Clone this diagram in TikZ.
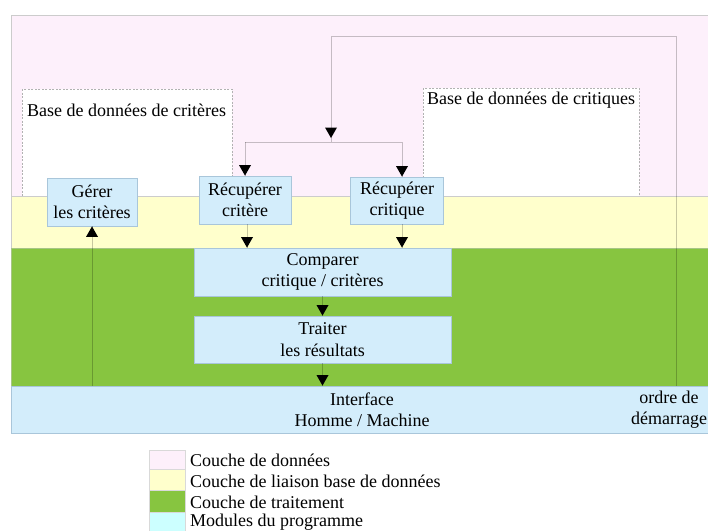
\documentclass[tikz,border=0pt]{standalone}
\usepackage{fontspec}
\setmainfont{Liberation Serif}
\usetikzlibrary{decorations.markings}
\definecolor{pinkL}{HTML}{FDF0FB}
\definecolor{yellowL}{HTML}{FFFFCC}
\definecolor{greenL}{HTML}{87C540}
\definecolor{blueL}{HTML}{D3EDFB}
\definecolor{blueB}{HTML}{A9C6DA}
\definecolor{cyanL}{HTML}{CCFFFF}
\tikzset{
  txt/.style={font=\fontsize{18}{21.5}\selectfont, align=center, inner sep=0pt},
  mod/.style={txt, draw=blueB, fill=blueL, line width=0.8pt},
  layer/.style={draw=black!20, line width=0.8pt},
  bdd/.style={draw=black!30, dashed, dash pattern=on 2pt off 1.5pt, fill=white, line width=0.6pt},
  line/.style={draw=black, draw opacity=0.22, line width=0.9pt},
  conn/.style={line, postaction={decorate}, decoration={markings,
      mark=at position 1 with {\fill[black, fill opacity=1] (0,0) -- (-10.5,6) -- (-10.5,-6) -- cycle;}}},
  swatch/.style={draw=black!15, line width=0.6pt},
  legtxt/.style={font=\fontsize{18}{21}\selectfont, anchor=west, inner sep=0pt}
}
\begin{document}
\begin{tikzpicture}[x=1pt,y=-1pt]
\useasboundingbox (0,0) rectangle (708,530);
\clip (0,0) rectangle (708,530);
% layers
\path[layer, fill=pinkL] (11,15) rectangle (720,196);
\path[bdd] (22,89) rectangle (232,196);
\node[txt, anchor=west] (bddA) at (27,110) {Base de données de critères};
\path[bdd] (423,88) rectangle (639,196);
\node[txt, anchor=west] (bddB) at (427,100) {Base de données de critiques};
\path[layer, fill=yellowL] (11,196) rectangle (720,248);
\path[layer, fill=greenL, draw=greenL!80!black!60] (11,248) rectangle (720,386);
% modules
\node[mod, minimum width=90pt, minimum height=48pt] (gerer) at (92,202) {Gérer\\les critères};
\node[mod, minimum width=92pt, minimum height=48pt] (recup1) at (245,200) {Récupérer\\critère};
\node[mod, minimum width=93pt, minimum height=47pt] (recup2) at (397,200.5) {Récupérer\\critique};
\node[mod, minimum width=257pt, minimum height=48pt] (comparer) at (322.5,272) {Comparer\\critique / critères};
\node[mod, minimum width=257pt, minimum height=47pt] (traiter) at (322.5,339.5) {Traiter\\les résultats};
\node[mod, minimum width=709pt, minimum height=47pt] (iface) at (365.5,409.5) {};
\node[txt] (ifacetxt) at (362,409.5) {Interface\\Homme / Machine};
\node[txt] (ordre) at (669,409.5) {ordre de\\démarrage};
% connectors
\coordinate (loopA) at (676,36);
\coordinate (loopB) at (331,36);
\coordinate (arrowend) at (331,138);
\coordinate (join) at (331,142);
\coordinate (jl) at (245,142);
\coordinate (jr) at (402,142);
\draw[conn] (loopA |- iface.north) -- (loopA) -- (loopB) -- (arrowend);
\draw[line] (arrowend) -- (join);
\draw[line] (jl) -- (jr);
\draw[conn] (jl) -- (recup1.north);
\draw[conn] (jr) -- (jr |- recup2.north);
\draw[conn] ([xshift=2pt]recup1.south) -- ([xshift=2pt]recup1.south |- comparer.north);
\draw[conn] (jr |- recup2.south) -- (jr |- comparer.north);
\draw[conn] (comparer.south) -- (traiter.north);
\draw[conn] (traiter.south) -- (traiter.south |- iface.north);
\draw[conn] (gerer.south |- iface.north) -- (gerer.south);
% legend
\path[swatch, fill=pinkL] (149,450) rectangle (185,469);
\path[swatch, fill=yellowL] (149,469) rectangle (185,490);
\path[swatch, fill=greenL] (149,490) rectangle (185,512);
\path[swatch, fill=cyanL] (149,512) rectangle (185,534);
\node[legtxt] (l1) at (190,460) {Couche de données};
\node[legtxt] (l2) at (190,481) {Couche de liaison base de données};
\node[legtxt] (l3) at (190,502) {Couche de traitement};
\node[legtxt] (l4) at (190,522) {Modules du programme};
\end{tikzpicture}
\end{document}
